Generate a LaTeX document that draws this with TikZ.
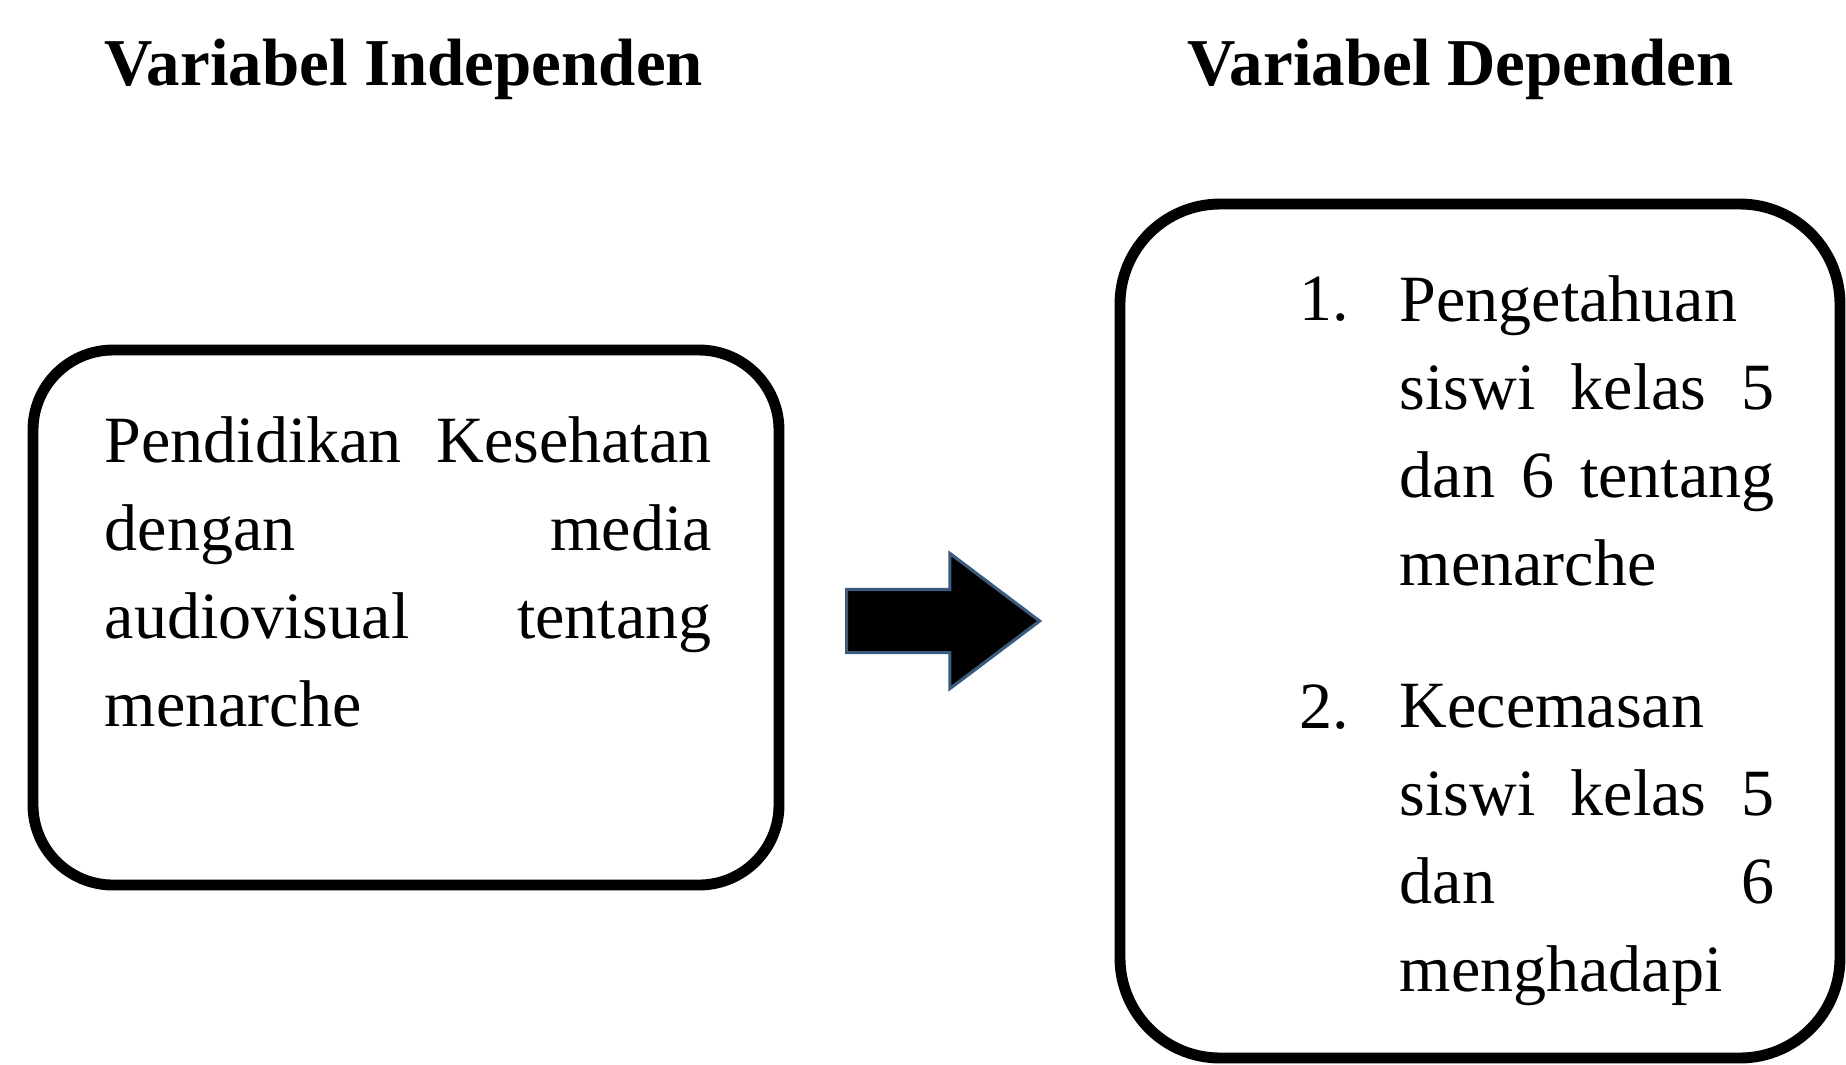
\documentclass[tikz,border=0pt]{standalone}
\usepackage{fontspec}
\setmainfont{Liberation Serif}
\usepackage{xcolor}
\usepackage{tikz}
\usetikzlibrary{shapes.arrows}
\definecolor{kfInk}{HTML}{000000}
\definecolor{kfEdge}{HTML}{3B5B7C}

\begin{document}
\begin{tikzpicture}[
  font=\fontsize{18.8}{25}\selectfont,
  vartitle/.style={font=\fontsize{19.05}{25}\selectfont\bfseries, text=kfInk, inner sep=0pt},
  varbox/.style={draw=kfInk, line width=3.1pt, rounded corners=8mm, inner sep=0pt},
  bodytxt/.style={text=kfInk, align=left, inner sep=0pt},
  itemnum/.style={text=kfInk, inner sep=0pt, anchor=base west},
  blockarrow/.style={single arrow, fill=kfInk, draw=kfEdge, line width=0.9pt,
                     inner xsep=0pt, inner ysep=0.30cm, minimum height=1.93cm,
                     single arrow head extend=0.36cm, single arrow tip angle=74},
]
\useasboundingbox (0,0) rectangle (18.46,-10.64);

% ── Titles ───────────────────────────────────────────────────────────────────
\node[vartitle, anchor=base west] (tind) at (1.04,-0.85) {Variabel Independen};
\node[vartitle, anchor=base west] (tdep) at (11.87,-0.85) {Variabel Dependen};

% ── Independent variable ─────────────────────────────────────────────────────
\node[varbox, minimum width=7.46cm, minimum height=5.35cm] (indep) at (4.06,-6.175) {};
\node[bodytxt, text width=6.07cm, anchor=north west] (indeptxt) at (1.04,-4.16)
  {Pendidikan\hfill Kesehatan\\ dengan\hfill media\\ audiovisual\hfill tentang\\ menarche};

% ── Dependent variables ──────────────────────────────────────────────────────
\node[varbox, rounded corners=10mm, minimum width=7.20cm, minimum height=8.54cm] (dep) at (14.80,-6.31) {};
\node[itemnum] (num1) at (12.99,-3.20) {1.};
\node[bodytxt, text width=3.75cm, anchor=north west] (item1) at (13.99,-2.75)
  {Pengetahuan\\ siswi\hfill kelas\hfill 5\\ dan\hfill 6\hfill tentang\\ menarche};
\node[itemnum] (num2) at (12.99,-7.28) {2.};
\node[bodytxt, text width=3.75cm, anchor=north west] (item2) at (13.99,-6.84)
  {Kecemasan\\ siswi\hfill kelas\hfill 5\\ dan\hfill 6\\ menghadapi};

% ── Block arrow between the two boxes ────────────────────────────────────────
\node[blockarrow, anchor=tail] (push) at (8.45,-6.21) {};

\end{tikzpicture}
\end{document}
